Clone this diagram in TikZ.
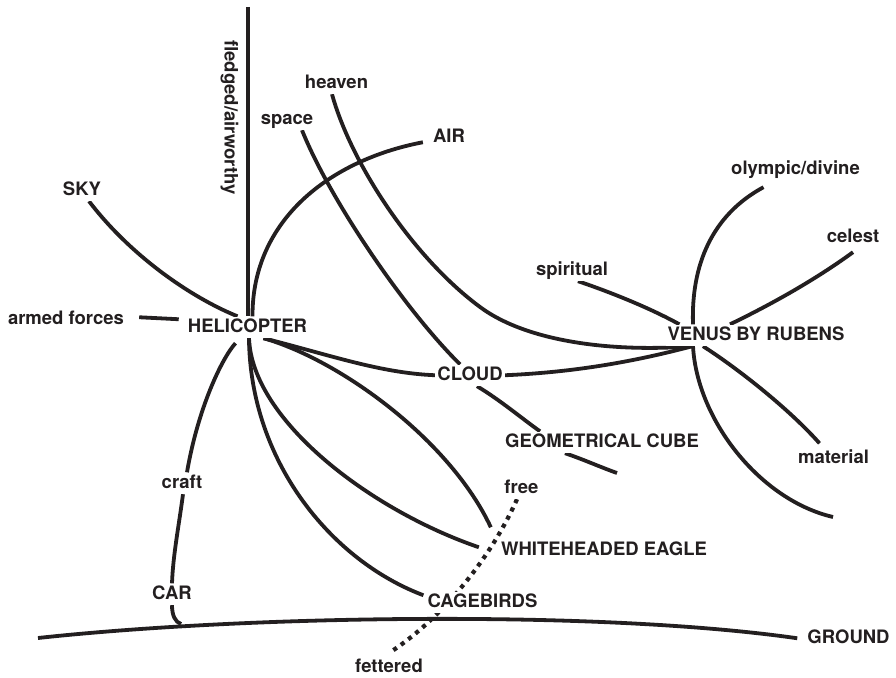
\documentclass[tikz,border=0pt]{standalone}
\usepackage{fontspec}
\setmainfont{TeX Gyre Heros}
\usetikzlibrary{backgrounds}
\definecolor{ink}{HTML}{231F20}
\tikzset{
  lbl/.style={font=\bfseries\fontsize{18.5}{20}\selectfont, text=ink, fill=white, inner sep=2pt,
    text height=13.5pt, text depth=4pt, anchor=base},
  conn/.style={draw=ink, line width=3.8pt},
  dots/.style={draw=ink, line width=4.2pt, dash pattern=on 4.2pt off 5pt},
}
\begin{document}
\begin{tikzpicture}[x=1pt,y=-1pt]
\useasboundingbox (0,0) rectangle (896,677);
% labels
\node[lbl] (sky) at (82,195) {SKY};
\node[lbl] (armed) at (66,324) {armed forces};
\node[lbl] (heli) at (247.5,332) {HELICOPTER};
\node[lbl,anchor=center,rotate=-90] (fledged) at (229.4,117.5) {fledged/airworthy};
\node[lbl] (heaven) at (336.5,88) {heaven};
\node[lbl] (space) at (287,124) {space};
\node[lbl] (air) at (449,142) {AIR};
\node[lbl] (olympic) at (795.5,174) {olympic/divine};
\node[lbl] (celest) at (853,242) {celest};
\node[lbl] (spiritual) at (572,275) {spiritual};
\node[lbl] (venus) at (756,340) {VENUS BY RUBENS};
\node[lbl] (cloud) at (470,380) {CLOUD};
\node[lbl] (geo) at (602,447) {GEOMETRICAL CUBE};
\node[lbl] (material) at (833.5,463) {material};
\node[lbl] (free) at (521.5,493) {free};
\node[lbl] (eagle) at (604,555) {WHITEHEADED EAGLE};
\node[lbl] (cage) at (482.5,607) {CAGEBIRDS};
\node[lbl] (ground) at (848.5,643) {GROUND};
\node[lbl] (fettered) at (389,672) {fettered};
\node[lbl] (craft) at (182,488) {craft};
\node[lbl] (car) at (172,599) {CAR};
% free ends
\coordinate (vtop) at (248,7);
\coordinate (gleft) at (38,638);
\coordinate (gcar) at (181,624);
\coordinate (geoend) at (617,473);
\coordinate (venusend) at (833,517);
\begin{pgfonlayer}{background}
\fill[white] (0,0) rectangle (896,677);
% helicopter
\draw[conn] (vtop) -- (vtop |- heli.north);
\draw[conn] ([xshift=7pt]sky.south) .. controls (130,255) and (190,297) .. ([xshift=-10pt]heli.north);
\draw[conn] ([xshift=13pt,yshift=2pt]armed.east) -- ([xshift=-7pt,yshift=8pt]heli.west);
\draw[conn] ([xshift=5pt]heli.north) .. controls (252,220) and (330,160) .. ([xshift=-8pt,yshift=-5pt]air.west);
\draw[conn] ([xshift=16pt]heli.south) .. controls (330,355) and (380,373) .. (cloud.west);
\draw[conn] ([xshift=16pt]heli.south) .. controls (340,360) and (450,440) .. ([xshift=-8pt,yshift=12pt]eagle.north west);
\draw[conn] ([xshift=1.5pt]heli.south) .. controls (252,420) and (370,510) .. ([xshift=-20pt,yshift=3pt]eagle.west);
\draw[conn] ([xshift=1.5pt]heli.south) .. controls (250,460) and (330,560) .. ([xshift=-2pt,yshift=7pt]cage.west);
\draw[conn] ([xshift=-12pt,yshift=-5pt]heli.south) .. controls (222,358) and (198,408) .. ([xshift=5pt]craft.north);
\draw[conn] ([xshift=1pt]craft.south) .. controls (179,525) and (173,555) .. (car.north);
\draw[conn] (car.south) .. controls (172,615) and (175,622) .. (gcar);
% ground
\draw[conn] (gleft) .. controls (250,615) and (600,610) .. ([xshift=-8pt]ground.west);
% space line
\draw[conn] ([xshift=15pt]space.south) .. controls (330,200) and (405,310) .. ([xshift=-10pt]cloud.north);
\draw[conn] ([xshift=7pt]cloud.south) .. controls (500,400) and (520,417) .. ([xshift=-62pt]geo.north);
\draw[conn] ([xshift=-37pt]geo.south) .. controls (585,460) and (600,467) .. (geoend);
% venus
\draw[conn] ([xshift=-4.5pt]heaven.south) .. controls (350,160) and (410,255) .. (480,307)
   .. controls (530,344) and (620,352) .. ([xshift=27pt]venus.south west);
\draw[conn] (cloud.east) .. controls (580,372) and (640,360) .. ([xshift=27pt]venus.south west);
\draw[conn] ([xshift=-32pt,yshift=-7pt]olympic.south) .. controls (712,215) and (691,265) .. ([xshift=-63pt]venus.north);
\draw[conn] ([xshift=-63pt]venus.south) .. controls (697,420) and (760,500) .. (venusend);
\draw[conn] ([yshift=-4pt]celest.south) .. controls (815,280) and (770,305) .. ([xshift=-26pt]venus.north);
\draw[conn] ([xshift=6pt]spiritual.south) .. controls (610,292) and (650,308) .. ([xshift=14pt]venus.north west);
\draw[conn] ([xshift=-53pt]venus.south) .. controls (740,370) and (790,410) .. ([xshift=-14pt,yshift=4pt]material.north);
% free / fettered
\draw[dots] ([xshift=-4.5pt]free.south) .. controls (490,560) and (440,620) .. ([xshift=1pt,yshift=4pt]fettered.north);
\end{pgfonlayer}
\end{tikzpicture}
\end{document}
